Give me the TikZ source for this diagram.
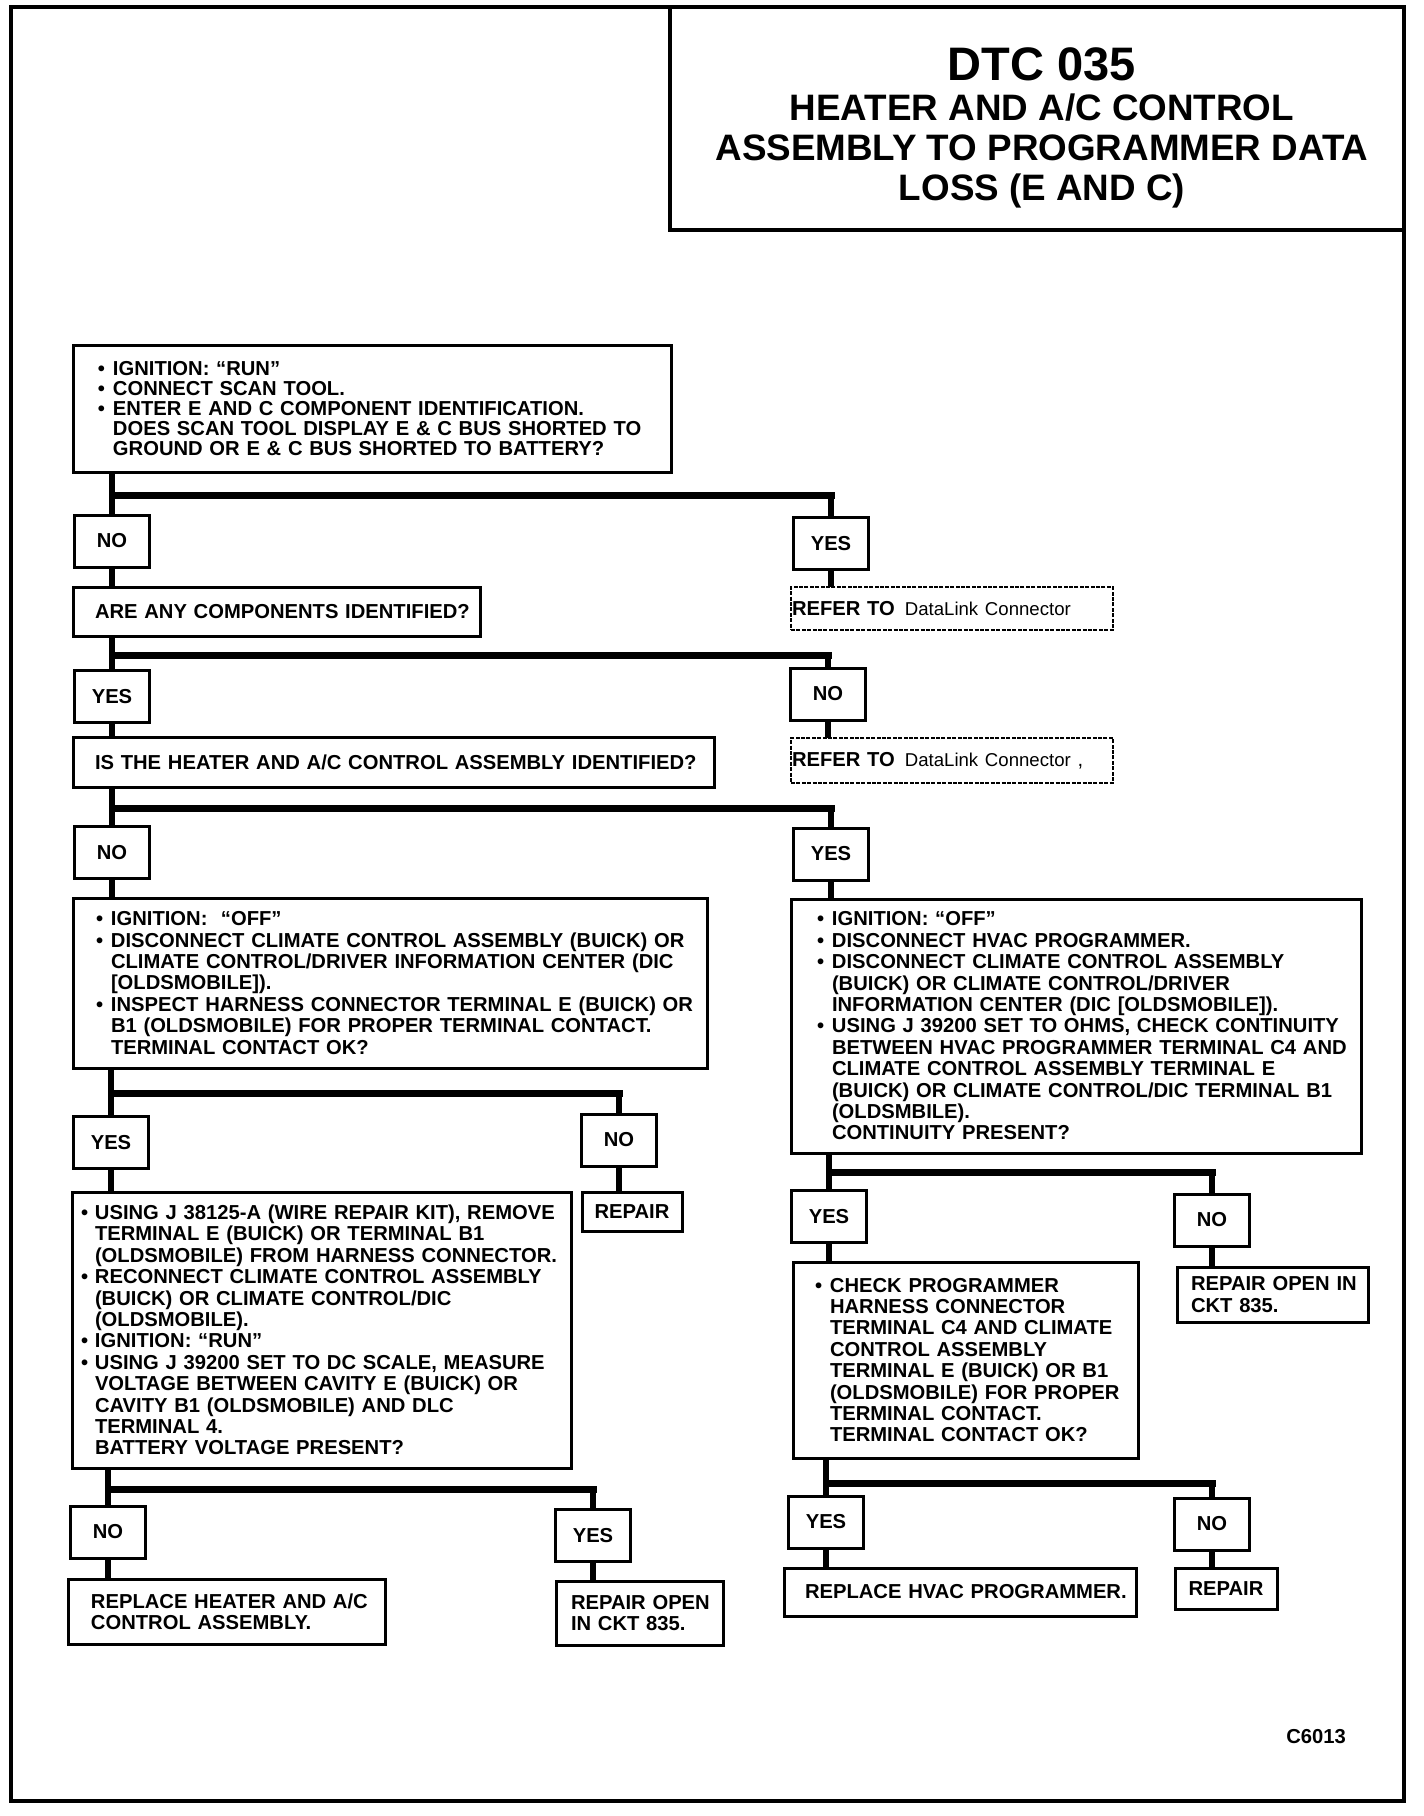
\documentclass[tikz,border=0pt]{standalone}
\usepackage{fontspec}
\setmainfont{Liberation Sans}
\newcommand\bodyf{\bfseries\fontsize{10.1}{10.7}\selectfont}
\newcommand\bodyfA{\bfseries\fontsize{10.1}{10}\selectfont}
\newcommand\bl{\makebox[7.5pt][l]{\textbullet}}
\newcommand\ct{\hspace*{7.5pt}}
\newcommand\bls{\makebox[7pt][l]{\textbullet}}
\newcommand\cts{\hspace*{7pt}}
\newcommand\dlc{{\mdseries\fontsize{9.3}{10}\selectfont DataLink Connector}}
\newcommand\ind[2]{{\leftskip=#1\relax #2\par}}
\begin{document}
\begin{tikzpicture}[x=0.5pt,y=-0.5pt,
  every node/.style={inner sep=0pt, outer sep=0pt},
  box/.style={draw, line width=1.5pt, anchor=north west, align=left, font=\bodyf},
  cbox/.style={draw, line width=1.5pt, anchor=north west, align=center, font=\bodyf},
  lab/.style={draw, line width=1.5pt, font=\bodyf, align=center, minimum width=37.5pt, minimum height=26pt},
  refbox/.style={draw, line width=0.9pt, dash pattern=on 2pt off 0.7pt, anchor=north west, align=left, font=\bodyf},
  vline/.style={line width=2.8pt},
  hbar/.style={line width=3.5pt, line cap=rect},
  frame/.style={line width=1.75pt}
]
\useasboundingbox (0,0) rectangle (1424,1816);
\draw[frame] (11,7) rectangle (1404,1801);

% title
\node[draw, line width=1.75pt, anchor=north west, minimum width=367pt, minimum height=111.5pt] (tbox) at (670,7) {};
\node[anchor=north, align=center, font=\bfseries\fontsize{18.4}{20}\selectfont] (ttext) at (1042,48)
  {{\fontsize{23.5}{20}\selectfont DTC 035}\\HEATER AND A/C CONTROL\\ASSEMBLY TO PROGRAMMER DATA\\LOSS (E AND C)};

% boxes
\node[box, font=\bodyfA, text width=299pt, minimum height=63.5pt] (b1) at (73,345)
  {\ind{12.5pt}{%
   \bl IGNITION: “RUN”\\
   \bl CONNECT SCAN TOOL.\\
   \bl ENTER E AND C COMPONENT IDENTIFICATION.\\
   \ct DOES SCAN TOOL DISPLAY E \& C BUS SHORTED TO\\
   \ct GROUND OR E \& C BUS SHORTED TO BATTERY?}};

\node[lab] (no1) at (112,541) {NO};
\node[lab] (yes1) at (831,543.5) {YES};

\node[box, text width=203.5pt, minimum height=24.5pt] (q2) at (73,587)
  {\ind{11pt}{ARE ANY COMPONENTS IDENTIFIED?}};
\node[refbox, text width=161pt, minimum height=21.5pt] (r1) at (791,587)
  {\ind{0.5pt}{REFER TO\hspace{5pt}\dlc}};

\node[lab] (yes2) at (112,696.5) {YES};
\node[lab] (no2) at (828,694) {NO};

\node[box, text width=320.5pt, minimum height=25pt] (q3) at (73,737)
  {\ind{11pt}{IS THE HEATER AND A/C CONTROL ASSEMBLY IDENTIFIED?}};
\node[refbox, text width=161pt, minimum height=22.5pt] (r2) at (791,738)
  {\ind{0.5pt}{REFER TO\hspace{5pt}\dlc\ {\mdseries ,}}};

\node[lab] (no3) at (112,852.5) {NO};
\node[lab] (yes3) at (831,854) {YES};

\node[box, text width=317pt, minimum height=85pt] (l3) at (73,898)
  {\ind{11.5pt}{%
   \bl IGNITION:\ \ “OFF”\\
   \bl DISCONNECT CLIMATE CONTROL ASSEMBLY (BUICK) OR\\
   \ct CLIMATE CONTROL/DRIVER INFORMATION CENTER (DIC\\
   \ct [OLDSMOBILE]).\\
   \bl INSPECT HARNESS CONNECTOR TERMINAL E (BUICK) OR\\
   \ct B1 (OLDSMOBILE) FOR PROPER TERMINAL CONTACT.\\
   \ct TERMINAL CONTACT OK?}};

\node[box, text width=285pt, minimum height=127pt] (r3) at (791,899)
  {\ind{13pt}{%
   \bl IGNITION: “OFF”\\
   \bl DISCONNECT HVAC PROGRAMMER.\\
   \bl DISCONNECT CLIMATE CONTROL ASSEMBLY\\
   \ct (BUICK) OR CLIMATE CONTROL/DRIVER\\
   \ct INFORMATION CENTER (DIC [OLDSMOBILE]).\\
   \bl USING J 39200 SET TO OHMS, CHECK CONTINUITY\\
   \ct BETWEEN HVAC PROGRAMMER TERMINAL C4 AND\\
   \ct CLIMATE CONTROL ASSEMBLY TERMINAL E\\
   \ct (BUICK) OR CLIMATE CONTROL/DIC TERMINAL B1\\
   \ct (OLDSMBILE).\\
   \ct CONTINUITY PRESENT?}};

\node[lab] (yes4) at (111,1142.5) {YES};
\node[lab] (no4) at (619,1140) {NO};

\node[box, text width=249.5pt, minimum height=138pt] (l5) at (72,1192)
  {\ind{4.5pt}{%
   \bls USING J 38125-A (WIRE REPAIR KIT), REMOVE\\
   \cts TERMINAL E (BUICK) OR TERMINAL B1\\
   \cts (OLDSMOBILE) FROM HARNESS CONNECTOR.\\
   \bls RECONNECT CLIMATE CONTROL ASSEMBLY\\
   \cts (BUICK) OR CLIMATE CONTROL/DIC\\
   \cts (OLDSMOBILE).\\
   \bls IGNITION: “RUN”\\
   \bls USING J 39200 SET TO DC SCALE, MEASURE\\
   \cts VOLTAGE BETWEEN CAVITY E (BUICK) OR\\
   \cts CAVITY B1 (OLDSMOBILE) AND DLC\\
   \cts TERMINAL 4.\\
   \cts BATTERY VOLTAGE PRESENT?}};
\node[cbox, text width=50pt, minimum height=19.5pt] (repl) at (582,1192) {REPAIR};

\node[lab] (yes5) at (829,1216.5) {YES};
\node[lab] (no5) at (1212,1220) {NO};

\node[box, text width=172.5pt, minimum height=98pt] (chk) at (793,1262)
  {\ind{11pt}{%
   \bl CHECK PROGRAMMER\\
   \ct HARNESS CONNECTOR\\
   \ct TERMINAL C4 AND CLIMATE\\
   \ct CONTROL ASSEMBLY\\
   \ct TERMINAL E (BUICK) OR B1\\
   \ct (OLDSMOBILE) FOR PROPER\\
   \ct TERMINAL CONTACT.\\
   \ct TERMINAL CONTACT OK?}};
\node[box, text width=95.5pt, minimum height=27.5pt] (ropr) at (1177,1267)
  {\ind{7pt}{REPAIR OPEN IN\\CKT 835.}};

\node[lab] (no6) at (108,1532) {NO};
\node[lab] (yes6) at (593,1535.5) {YES};
\node[lab] (yes7) at (826,1522) {YES};
\node[lab] (no7) at (1212,1524) {NO};

\node[box, text width=158.5pt, minimum height=32.5pt] (rh) at (68,1579)
  {\ind{11.5pt}{REPLACE HEATER AND A/C\\CONTROL ASSEMBLY.}};
\node[box, text width=83.5pt, minimum height=32pt] (ropl) at (556,1581)
  {\ind{7.5pt}{REPAIR OPEN\\IN CKT 835.}};
\node[box, text width=176pt, minimum height=24pt] (rhv) at (784,1568)
  {\ind{10.5pt}{REPLACE HVAC PROGRAMMER.}};
\node[cbox, text width=51pt, minimum height=20.5pt] (repr) at (1175,1568) {REPAIR};

\node[font=\bodyf] (code) at (1316,1737) {C6013};

% junction levels
\coordinate (j1) at (0,495);
\coordinate (j2) at (0,655);
\coordinate (j3) at (0,808);
\coordinate (j4) at (0,1093);
\coordinate (j5) at (0,1172);
\coordinate (j6) at (0,1489);
\coordinate (j7) at (0,1483);

% connectors
\draw[vline] (b1.south -| no1) -- (no1.north);
\draw[hbar] (no1 |- j1) -- (yes1 |- j1);
\draw[vline] (yes1 |- j1) -- (yes1.north);
\draw[vline] (no1.south) -- (no1 |- q2.north);
\draw[vline] (yes1.south) -- (yes1 |- r1.north);

\draw[vline] (q2.south -| yes2) -- (yes2.north);
\draw[hbar] (yes2 |- j2) -- (no2 |- j2);
\draw[vline] (no2 |- j2) -- (no2.north);
\draw[vline] (yes2.south) -- (yes2 |- q3.north);
\draw[vline] (no2.south) -- (no2 |- r2.north);

\draw[vline] (q3.south -| no3) -- (no3.north);
\draw[hbar] (no3 |- j3) -- (yes3 |- j3);
\draw[vline] (yes3 |- j3) -- (yes3.north);
\draw[vline] (no3.south) -- (no3 |- l3.north);
\draw[vline] (yes3.south) -- (yes3 |- r3.north);

\draw[vline] (l3.south -| yes4) -- (yes4.north);
\draw[hbar] (yes4 |- j4) -- (no4 |- j4);
\draw[vline] (no4 |- j4) -- (no4.north);
\draw[vline] (yes4.south) -- (yes4 |- l5.north);
\draw[vline] (no4.south) -- (no4 |- repl.north);

\draw[vline] (r3.south -| yes5) -- (yes5.north);
\draw[hbar] (yes5 |- j5) -- (no5 |- j5);
\draw[vline] (no5 |- j5) -- (no5.north);
\draw[vline] (yes5.south) -- (yes5 |- chk.north);
\draw[vline] (no5.south) -- (no5 |- ropr.north);

\draw[vline] (l5.south -| no6) -- (no6.north);
\draw[hbar] (no6 |- j6) -- (yes6 |- j6);
\draw[vline] (yes6 |- j6) -- (yes6.north);
\draw[vline] (no6.south) -- (no6 |- rh.north);
\draw[vline] (yes6.south) -- (yes6 |- ropl.north);

\draw[vline] (chk.south -| yes7) -- (yes7.north);
\draw[hbar] (yes7 |- j7) -- (no7 |- j7);
\draw[vline] (no7 |- j7) -- (no7.north);
\draw[vline] (yes7.south) -- (yes7 |- rhv.north);
\draw[vline] (no7.south) -- (no7 |- repr.north);
\end{tikzpicture}
\end{document}
